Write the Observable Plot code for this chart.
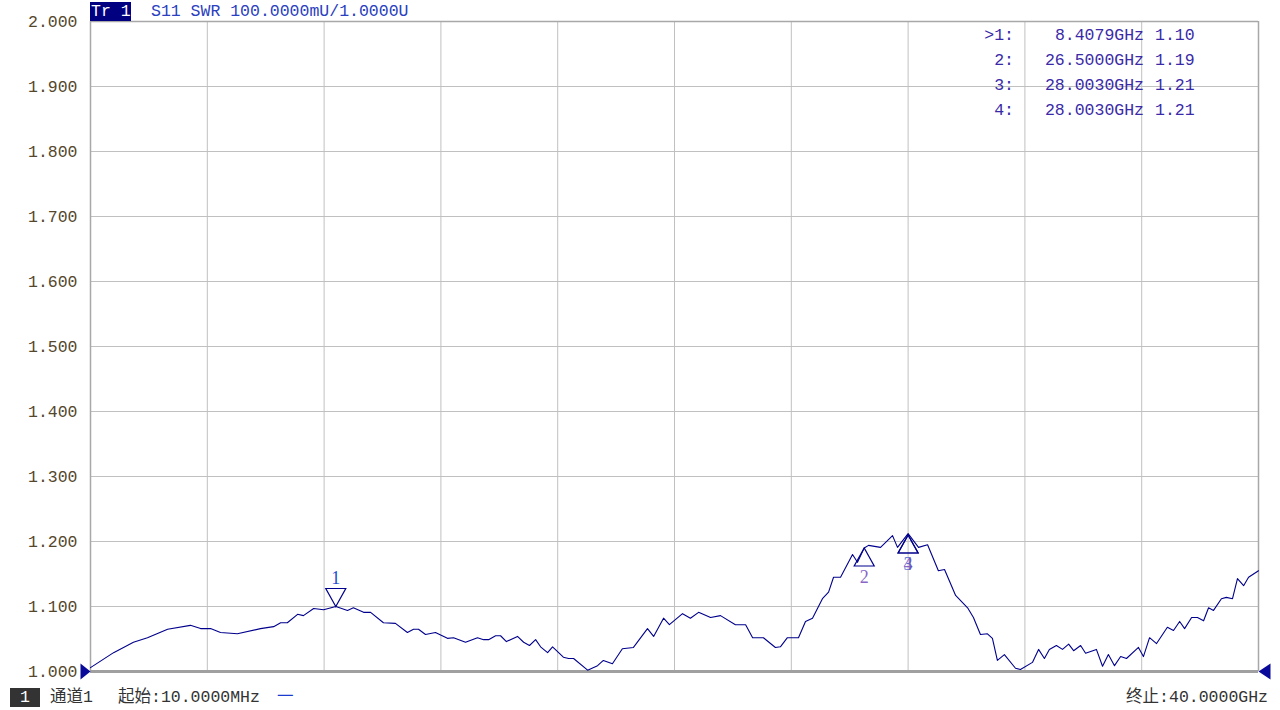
<!DOCTYPE html>
<html><head><meta charset="utf-8">
<script src="https://cdn.jsdelivr.net/npm/d3@7"></script>
<script src="https://cdn.jsdelivr.net/npm/@observablehq/plot@0.6"></script>
<style>
html,body{margin:0;padding:0;background:#fff;}
#wrap{position:relative;width:1280px;height:710px;overflow:hidden;font-family:"Liberation Mono","Noto Sans CJK SC",monospace;font-size:16.5px;}
#wrap svg{position:absolute;left:0;top:0;}
.t{position:absolute;white-space:pre;line-height:19px;height:19px;}
</style></head><body><div id="wrap"></div>
<script>
// Trace data (frequency in GHz, SWR)
const freqGHz = [0.01,0.80,1.48,1.96,2.65,3.43,3.78,4.12,4.46,5.04,5.83,6.28,6.52,6.75,7.10,7.30,7.65,7.99,8.41,8.81,9.01,9.36,9.60,
  10.04,10.45,10.86,11.07,11.24,11.48,11.82,12.23,12.44,12.85,13.26,13.47,13.64,13.88,14.05,14.25,14.63,14.84,15.04,15.25,15.42,15.66,15.83,
  16.20,16.38,16.55,17.03,17.37,17.57,17.88,18.22,18.60,19.08,19.29,19.63,19.83,20.28,20.55,20.83,21.24,21.58,22.09,22.44,22.68,23.05,23.46,23.63,23.87,
  24.25,24.49,24.73,25.07,25.28,25.45,25.69,26.10,26.27,26.50,26.65,27.06,27.47,27.64,28.003,28.36,28.67,29.04,29.25,29.63,30.04,30.24,30.48,30.72,30.89,
  31.06,31.30,31.68,31.85,32.26,32.47,32.67,32.84,33.08,33.29,33.50,33.67,33.91,34.08,34.45,34.66,34.86,35.07,35.28,35.48,35.89,36.06,36.27,36.51,36.88,
  37.09,37.30,37.47,37.71,37.91,38.12,38.29,38.46,38.73,38.90,39.11,39.28,39.49,39.66,40.00];
const swr = [1.006,1.029,1.045,1.052,1.065,1.071,1.066,1.066,1.060,1.058,1.066,1.069,1.075,1.075,1.088,1.086,1.097,1.095,1.100,1.094,1.098,1.091,1.091,
  1.075,1.074,1.060,1.065,1.065,1.057,1.060,1.051,1.052,1.045,1.052,1.049,1.049,1.055,1.055,1.046,1.054,1.045,1.040,1.049,1.038,1.029,1.038,
  1.022,1.020,1.020,1.002,1.009,1.017,1.012,1.035,1.037,1.066,1.054,1.082,1.072,1.089,1.082,1.091,1.083,1.086,1.072,1.072,1.052,1.052,1.037,1.038,1.052,
  1.052,1.077,1.082,1.112,1.122,1.145,1.145,1.180,1.168,1.190,1.194,1.191,1.209,1.191,1.212,1.191,1.195,1.155,1.157,1.117,1.098,1.083,1.057,1.058,1.051,
  1.017,1.026,1.005,1.003,1.014,1.034,1.020,1.034,1.040,1.034,1.042,1.032,1.040,1.028,1.034,1.008,1.026,1.009,1.023,1.020,1.037,1.023,1.052,1.043,1.068,
  1.063,1.077,1.066,1.083,1.083,1.078,1.098,1.094,1.112,1.114,1.112,1.143,1.132,1.145,1.155];

const yTicks = [1.0,1.1,1.2,1.3,1.4,1.5,1.6,1.7,1.8,1.9,2.0];
const xGrid = [0.01,4.009,8.008,12.007,16.006,20.005,24.004,28.003,32.002,36.001,40];

const markerNames = ["1","2","3","4"];
const markerFreq = [8.4079,26.5,28.003,28.003];
const markerSwr = [1.10,1.19,1.21,1.21];
const markerFreqLabels = ["8.4079GHz","26.5000GHz","28.0030GHz","28.0030GHz"];
const markerSwrLabels = ["1.10","1.19","1.21","1.21"];

const traceTag = "Tr 1";
const traceLabel = "S11 SWR 100.0000mU/1.0000U";
const channelTag = "1";
const channelLabel = "通道1";
const startLabel = "起始:10.0000MHz";
const stopLabel = "终止:40.0000GHz";

const trace = freqGHz.map((f,i)=>({f, v: swr[i]}));
const markers = markerNames.map((n,i)=>({n, f: markerFreq[i], v: markerSwr[i]}));

const downTri = {draw(c){ c.moveTo(0,0); c.lineTo(-10,-18); c.lineTo(10,-18); c.closePath(); }};
const upTri = {draw(c){ c.moveTo(0,0); c.lineTo(-10,18); c.lineTo(10,18); c.closePath(); }};
const leftRef = {draw(c){ c.moveTo(0,0); c.lineTo(-10,-8); c.lineTo(-10,8); c.closePath(); }};
const rightRef = {draw(c){ c.moveTo(0,0); c.lineTo(12,-8); c.lineTo(12,8); c.closePath(); }};

const gridColor = "#c0c0c0";
const traceColor = "#00008c";
const labelColor = n => n === "1" ? "#1f4fd0" : n === "2" ? "#6a3cb8" : n === "3" ? "#3a55c8" : "#6a40b8";

const chart = Plot.plot({
  width: 1280, height: 710,
  marginLeft: 90, marginRight: 22, marginTop: 21, marginBottom: 39,
  style: {fontFamily: '"Liberation Mono","Noto Sans CJK SC",monospace', fontSize: "16.5px", background: "transparent", overflow: "visible"},
  x: {domain: [0.01, 40], axis: null},
  y: {domain: [1, 2], axis: null},
  marks: [
    Plot.gridX(xGrid, {stroke: gridColor, strokeOpacity: 1}),
    Plot.gridY(yTicks, {stroke: gridColor, strokeOpacity: 1}),
    Plot.ruleX([0.01], {stroke: "#a8a8a8", strokeWidth: 1.5}),
    Plot.ruleX([40], {stroke: "#a8a8a8", strokeWidth: 1.5}),
    Plot.ruleY([2], {stroke: "#a8a8a8", strokeWidth: 1.5}),
    Plot.ruleY([1], {stroke: "#a0a0a0", strokeWidth: 3}),
    Plot.axisY({ticks: yTicks, tickFormat: d3.format(".3f"), tickSize: 0, tickPadding: 13, fontSize: 16.5, color: "#55472c", label: null}),
    Plot.line(trace, {x: "f", y: "v", stroke: traceColor, strokeWidth: 1.1}),
    Plot.dot(markers.filter(d => d.n === "1"), {x: "f", y: "v", symbol: downTri, r: 5, fill: "none", stroke: traceColor, strokeWidth: 1.2}),
    Plot.dot(markers.filter(d => d.n !== "1"), {x: "f", y: "v", symbol: upTri, r: 5, fill: "none", stroke: traceColor, strokeWidth: 1.2}),
    Plot.text(markers.filter(d => d.n === "1"), {x: "f", y: "v", text: "n", fill: d => labelColor(d.n), fontSize: 18, fontFamily: "Liberation Serif", dy: -28}),
    Plot.text(markers.filter(d => d.n !== "1"), {x: "f", y: "v", text: "n", fill: d => labelColor(d.n), fontSize: 18, fontFamily: "Liberation Serif", dy: 29, fillOpacity: 0.8}),
    Plot.dot([{f: 0.01, v: 1}], {x: "f", y: "v", symbol: leftRef, r: 5, fill: "#0a0a9a", stroke: "none"}),
    Plot.dot([{f: 40, v: 1}], {x: "f", y: "v", symbol: rightRef, r: 5, fill: "#0a0a9a", stroke: "none"})
  ]
});

const wrap = document.getElementById("wrap");
wrap.appendChild(chart);

function addText(txt, css) {
  const d = document.createElement("div");
  d.className = "t";
  d.textContent = txt;
  Object.assign(d.style, css);
  wrap.appendChild(d);
  return d;
}
// header
addText(traceTag, {left: "90px", top: "2px", width: "41px", background: "#000080", color: "#fff", paddingLeft: "1px", boxSizing: "border-box"});
addText(traceLabel, {left: "151px", top: "2px", color: "#2a40c0"});
// marker table
markerNames.forEach((n, i) => {
  const top = (26 + 25 * i) + "px";
  addText((i === 0 ? ">" : "") + n + ":", {right: (1280 - 1014) + "px", top, color: "#3a2aa8", textAlign: "right"});
  addText(markerFreqLabels[i], {right: (1280 - 1144) + "px", top, color: "#3a2aa8", textAlign: "right"});
  addText(markerSwrLabels[i], {left: "1155px", top, color: "#3a2aa8"});
});
// footer
addText(channelTag, {left: "10px", top: "688px", width: "30px", background: "#333", color: "#fff", textAlign: "center"});
addText(channelLabel, {left: "50px", top: "688px", color: "#333"});
addText(startLabel, {left: "118px", top: "688px", color: "#333"});
addText("一", {left: "277px", top: "688px", color: "#1a3ad0"});
addText(stopLabel, {right: "12px", top: "688px", color: "#333"});
</script>
</body></html>
